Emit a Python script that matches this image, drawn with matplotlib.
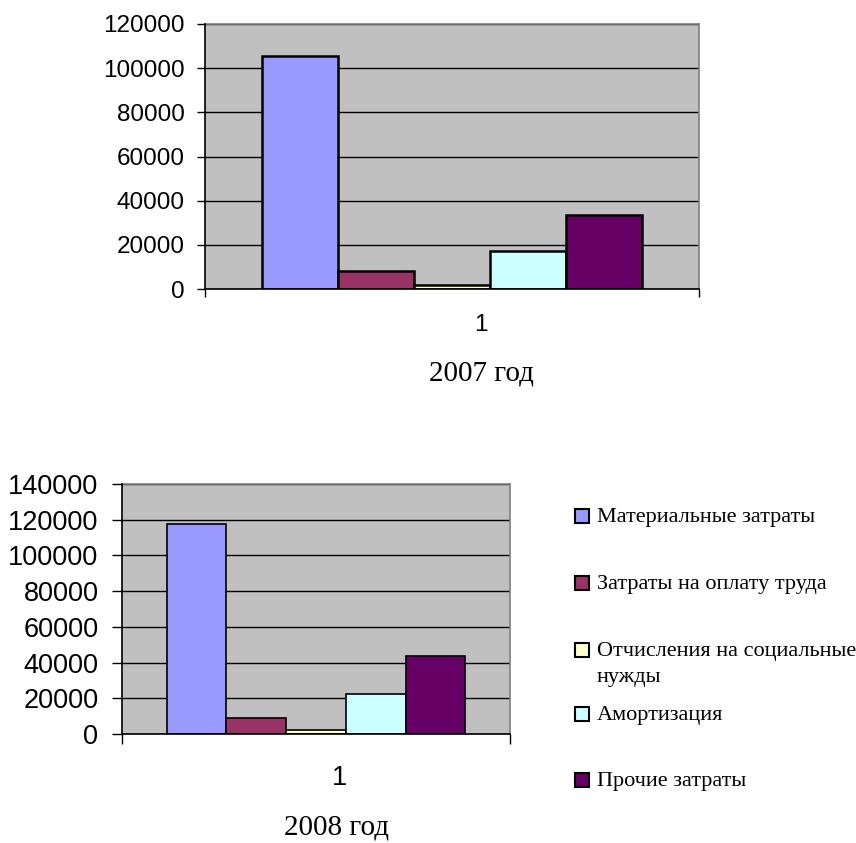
import matplotlib
matplotlib.use("Agg")
import matplotlib.pyplot as plt
from matplotlib.patches import Rectangle

# Cost structure by element, thousand rubles
series_names = [
    "Материальные затраты",
    "Затраты на оплату труда",
    "Отчисления на социальные\nнужды",
    "Амортизация",
    "Прочие затраты",
]
colors = ["#9999FF", "#993366", "#FFFFCC", "#CCFFFF", "#660066"]

costs_2007 = [105700, 8200, 1700, 17000, 33600]
costs_2008 = [117500, 8800, 2400, 22400, 43700]

category_labels = ["1"]
ticks_2007 = [0, 20000, 40000, 60000, 80000, 100000, 120000]
ticks_2008 = [0, 20000, 40000, 60000, 80000, 100000, 120000, 140000]

W, H = 856, 843
SANS = "Liberation Sans"
SERIF = "Liberation Serif"


def px_box(x0, y0, x1, y1):
    """Convert a pixel box (top-left origin) to figure fractions."""
    return [x0 / W, 1 - y1 / H, (x1 - x0) / W, (y1 - y0) / H]


def draw_panel(ax, values, yticks, tick_size, edge_lw, tick_len, pad):
    n = len(values)
    bw = 1 / (n + 1.5)
    for i, (v, c) in enumerate(zip(values, colors)):
        ax.bar((i - (n - 1) / 2) * bw, v, width=bw, color=c,
               edgecolor="black", linewidth=edge_lw, zorder=3)
    ax.set_xlim(-0.5, 0.5)
    ax.set_ylim(yticks[0], yticks[-1])
    ax.set_facecolor("#C0C0C0")
    ax.set_yticks(yticks)
    ax.set_yticklabels([str(t) for t in yticks], fontfamily=SANS, fontsize=tick_size)
    ax.tick_params(axis="y", length=tick_len, width=1, pad=pad, direction="out")
    ax.set_xticks([-0.5, 0.5])
    ax.set_xticklabels([])
    ax.tick_params(axis="x", length=tick_len, width=1, direction="out")
    ax.grid(axis="y", color="black", linewidth=1, zorder=1)
    for side in ("top", "right"):
        ax.spines[side].set_color("#808080")
        ax.spines[side].set_linewidth(1.2)
    for side in ("left", "bottom"):
        ax.spines[side].set_color("black")
        ax.spines[side].set_linewidth(1.2)
        ax.spines[side].set_zorder(4)


fig = plt.figure(figsize=(W / 100, H / 100), dpi=100)

ax1 = fig.add_axes(px_box(205, 24, 699, 289))
draw_panel(ax1, costs_2007, ticks_2007, 17.5, 1.8, 5.8, 9.0)

ax2 = fig.add_axes(px_box(122, 484, 510, 734))
draw_panel(ax2, costs_2008, ticks_2008, 19.5, 1.2, 7, 10)

# category and year captions
fig.text(481 / W, 1 - 325 / H, category_labels[0], fontfamily=SANS, fontsize=17.5,
         ha="center", va="center")
fig.text(481 / W, 1 - 374 / H, "2007 год", fontfamily=SERIF, fontsize=21,
         ha="center", va="center")
fig.text(339 / W, 1 - 778 / H, category_labels[0], fontfamily=SANS, fontsize=19.5,
         ha="center", va="center")
fig.text(337 / W, 1 - 828 / H, "2008 год", fontfamily=SERIF, fontsize=21,
         ha="center", va="center")

# legend for both panels
legend_y = [516, 583, 650, 714, 780]
for name, c, y in zip(series_names, colors, legend_y):
    fig.patches.append(Rectangle((575 / W, 1 - (y + 7) / H), 14 / W, 14 / H,
                                 transform=fig.transFigure, facecolor=c,
                                 edgecolor="black", linewidth=1.5))
    fig.text(597 / W, 1 - (y - 8) / H, name, fontfamily=SERIF, fontsize=16,
             ha="left", va="top", linespacing=1.5)

fig.savefig("out.png", dpi=100)
